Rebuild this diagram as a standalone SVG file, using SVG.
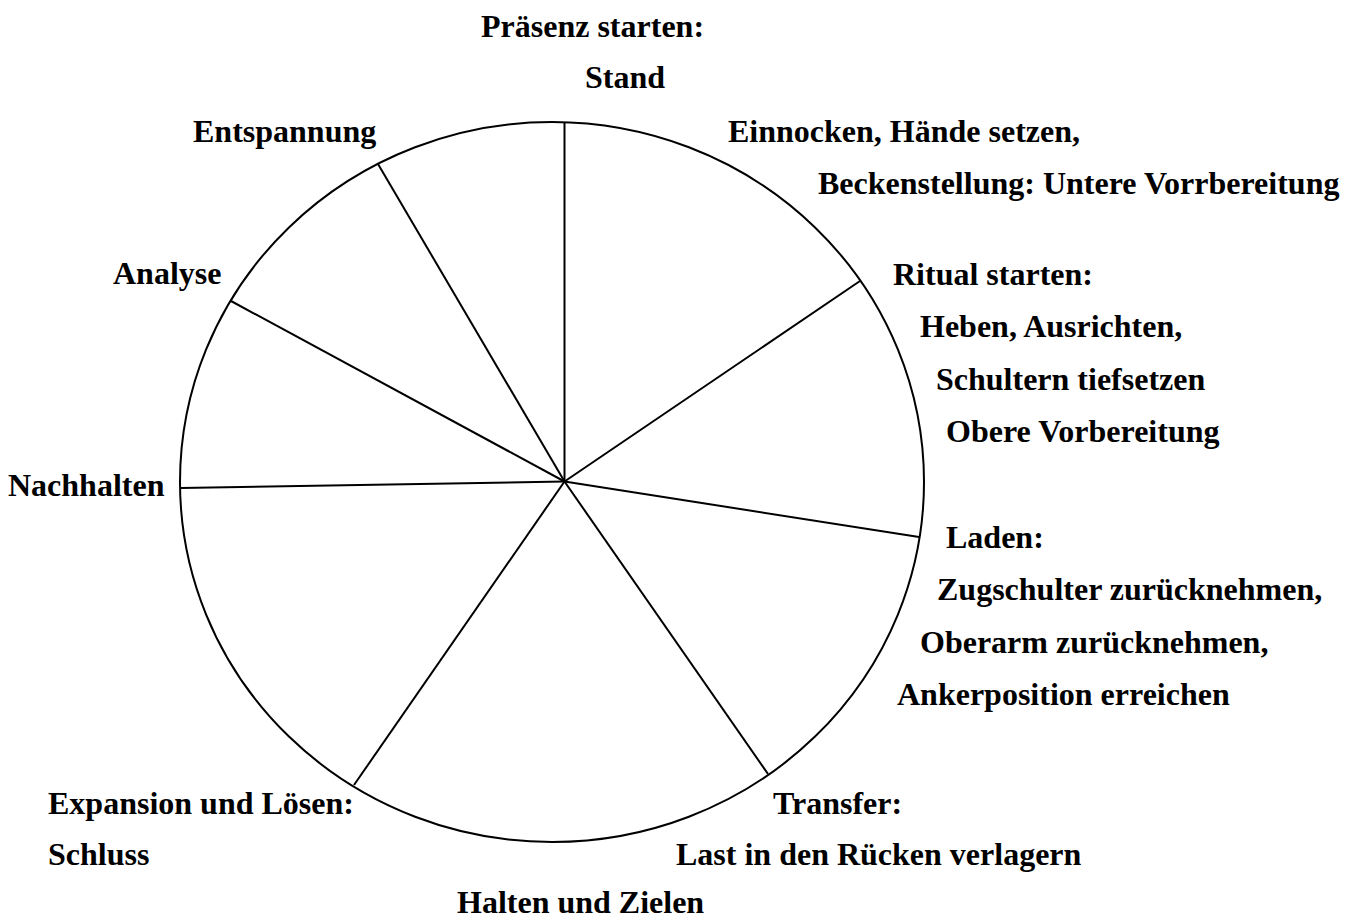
<svg xmlns="http://www.w3.org/2000/svg" width="1346" height="920" viewBox="0 0 1346 920">
<style>
text{font-family:"Liberation Serif","Times New Roman",serif;font-weight:bold;font-size:32px;fill:#000}
.ln{stroke:#000;stroke-width:2;fill:none}
</style>
<rect width="1346" height="920" fill="#fff"/>
<g id="wheel">
<ellipse class="ln" cx="552" cy="482" rx="372" ry="360"/>
</g>
<g id="connectors">
<line class="ln" x1="564.5" y1="481.5" x2="564.5" y2="122"/>
<line class="ln" x1="564.5" y1="481.5" x2="860" y2="281"/>
<line class="ln" x1="564.5" y1="481.5" x2="919" y2="537"/>
<line class="ln" x1="564.5" y1="481.5" x2="768" y2="774"/>
<line class="ln" x1="564.5" y1="481.5" x2="354" y2="785"/>
<line class="ln" x1="564.5" y1="481.5" x2="181" y2="488"/>
<line class="ln" x1="564.5" y1="481.5" x2="231" y2="301"/>
<line class="ln" x1="564.5" y1="481.5" x2="378" y2="164"/>
</g>
<g id="n-praesenz"><text x="481" y="37">Präsenz starten:</text><text x="585" y="88">Stand</text></g>
<g id="n-einnocken"><text x="728" y="142">Einnocken, Hände setzen,</text><text x="818" y="194">Beckenstellung: Untere Vorrbereitung</text></g>
<g id="n-ritual"><text x="893" y="285">Ritual starten:</text><text x="920" y="337">Heben, Ausrichten,</text><text x="936" y="390">Schultern tiefsetzen</text><text x="946" y="442">Obere Vorbereitung</text></g>
<g id="n-laden"><text x="946" y="548">Laden:</text><text x="937" y="600">Zugschulter zurücknehmen,</text><text x="920" y="653">Oberarm zurücknehmen,</text><text x="897" y="705">Ankerposition erreichen</text></g>
<g id="n-transfer"><text x="773" y="814">Transfer:</text><text x="676" y="865">Last in den Rücken verlagern</text></g>
<g id="n-halten"><text x="457" y="913">Halten und Zielen</text></g>
<g id="n-expansion"><text x="48" y="814">Expansion und Lösen:</text><text x="48" y="865">Schluss</text></g>
<g id="n-nachhalten"><text x="8" y="496">Nachhalten</text></g>
<g id="n-analyse"><text x="113" y="284">Analyse</text></g>
<g id="n-entspannung"><text x="193" y="142">Entspannung</text></g>
</svg>
